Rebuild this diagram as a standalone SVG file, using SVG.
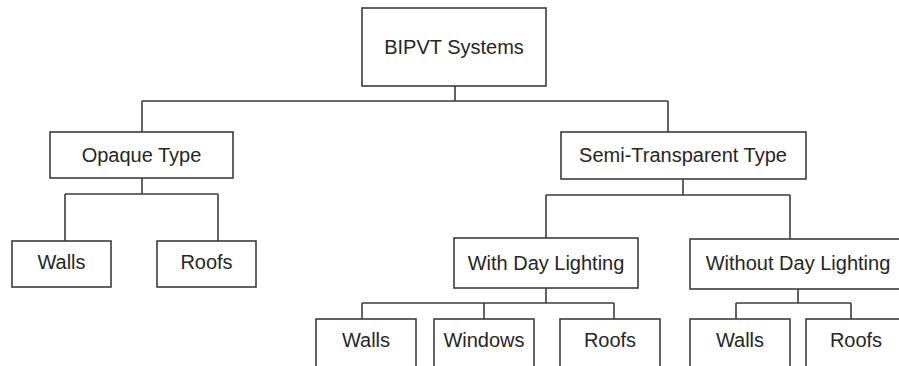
<svg xmlns="http://www.w3.org/2000/svg" width="899" height="366" viewBox="0 0 899 366">
  <style>
    .box { fill: #ffffff; stroke: #3c3c3c; stroke-width: 1.6; }
    .lbl { font-family: "Liberation Sans", Arial, sans-serif; font-size: 20px; fill: #262626; text-anchor: middle; }
    .wire { fill: none; stroke: #3c3c3c; stroke-width: 1.6; }
  </style>
  <rect width="899" height="366" fill="#ffffff"/>

  <!-- tree connectors -->
  <g id="connectors" class="wire">
    <path d="M455,86 V101 M142,101 H668 M142,101 V132 M668,101 V132"/>
    <path d="M142,178 V194 M65,194 H218 M65,194 V241 M218,194 V241"/>
    <path d="M683,179 V195 M546,195 H790 M546,195 V238 M790,195 V239"/>
    <path d="M546,288 V303 M362,303 H614 M362,303 V319 M484,303 V319 M614,303 V319"/>
    <path d="M798,289 V303 M736,303 H851 M736,303 V319 M851,303 V319"/>
  </g>

  <g id="bipvt-systems">
    <rect class="box" x="362" y="8" width="184" height="78"/>
    <text class="lbl" x="454" y="54">BIPVT Systems</text>
  </g>

  <g id="opaque-type">
    <rect class="box" x="50" y="132" width="183" height="46"/>
    <text class="lbl" x="141.5" y="162">Opaque Type</text>
  </g>
  <g id="opaque-walls">
    <rect class="box" x="12" y="241" width="99" height="46"/>
    <text class="lbl" x="61.5" y="269">Walls</text>
  </g>
  <g id="opaque-roofs">
    <rect class="box" x="157" y="241" width="99" height="46"/>
    <text class="lbl" x="206.5" y="269">Roofs</text>
  </g>

  <g id="semi-transparent-type">
    <rect class="box" x="561" y="132" width="245" height="47"/>
    <text class="lbl" x="683" y="162">Semi-Transparent Type</text>
  </g>

  <g id="with-day-lighting">
    <rect class="box" x="454" y="238" width="184" height="50"/>
    <text class="lbl" x="546" y="270">With Day Lighting</text>
  </g>
  <g id="without-day-lighting">
    <rect class="box" x="690" y="239" width="216" height="50"/>
    <text class="lbl" x="798" y="270">Without Day Lighting</text>
  </g>

  <g id="day-walls">
    <rect class="box" x="316" y="319" width="100" height="52"/>
    <text class="lbl" x="366" y="347">Walls</text>
  </g>
  <g id="day-windows">
    <rect class="box" x="434" y="319" width="100" height="52"/>
    <text class="lbl" x="484" y="347">Windows</text>
  </g>
  <g id="day-roofs">
    <rect class="box" x="560" y="319" width="100" height="52"/>
    <text class="lbl" x="610" y="347">Roofs</text>
  </g>

  <g id="noday-walls">
    <rect class="box" x="690" y="319" width="100" height="52"/>
    <text class="lbl" x="740" y="347">Walls</text>
  </g>
  <g id="noday-roofs">
    <rect class="box" x="806" y="319" width="100" height="52"/>
    <text class="lbl" x="856" y="347">Roofs</text>
  </g>
</svg>
